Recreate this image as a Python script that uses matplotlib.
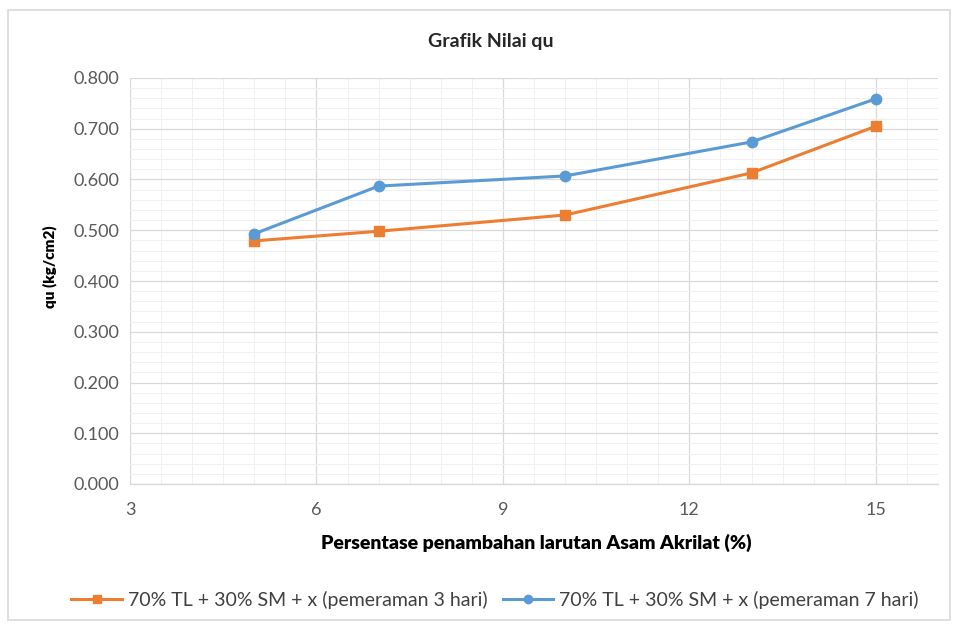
import matplotlib
matplotlib.use("Agg")
import matplotlib.pyplot as plt
from matplotlib.ticker import MultipleLocator, FormatStrFormatter
from matplotlib.patches import Rectangle

plt.rcParams['font.family'] = ['Lato', 'DejaVu Sans']

# Data
persen = [5, 7, 10, 13, 15]
qu_3_hari = [0.479, 0.498, 0.530, 0.613, 0.705]
qu_7_hari = [0.493, 0.587, 0.607, 0.674, 0.759]
label_3 = "70% TL + 30% SM + x (pemeraman 3 hari)"
label_7 = "70% TL + 30% SM + x (pemeraman 7 hari)"
judul = "Grafik Nilai qu"
label_x = "Persentase penambahan larutan Asam Akrilat (%)"
label_y = "qu (kg/cm2)"

W, H = 960, 628
fig = plt.figure(figsize=(W / 100, H / 100), dpi=100)
fig.patch.set_facecolor("white")

# outer chart frame
fig.patches.append(Rectangle((8 / W, 1 - 620 / H), 942 / W, 610 / H,
                             transform=fig.transFigure, fill=False,
                             edgecolor="#d9d9d9", linewidth=1.2))

left, right, top, bottom = 130, 938, 78, 484
ax = fig.add_axes([left / W, 1 - bottom / H, (right - left) / W, (bottom - top) / H])

orange = "#ED7D31"
blue = "#5B9BD5"
ax.plot(persen, qu_3_hari, color=orange, marker="s", markersize=7, linewidth=2.2,
        label=label_3, zorder=3)
ax.plot(persen, qu_7_hari, color=blue, marker="o", markersize=7.5, linewidth=2.2,
        label=label_7, zorder=4)

ax.set_xlim(3, 16)
ax.set_ylim(0, 0.8)
ax.xaxis.set_major_locator(MultipleLocator(3))
ax.xaxis.set_minor_locator(MultipleLocator(0.5))
ax.yaxis.set_major_locator(MultipleLocator(0.1))
ax.yaxis.set_minor_locator(MultipleLocator(0.02))
ax.yaxis.set_major_formatter(FormatStrFormatter("%.3f"))

ax.grid(which="major", color="#d9d9d9", linewidth=0.9)
ax.grid(which="minor", color="#f0f0f0", linewidth=0.7)
ax.set_axisbelow(True)

for s in ["top", "right", "left"]:
    ax.spines[s].set_visible(False)
ax.spines["bottom"].set_color("#d9d9d9")
ax.spines["bottom"].set_linewidth(1.0)

ax.tick_params(which="both", length=0)
ax.tick_params(axis="both", labelsize=13, labelcolor="#595959")
ax.tick_params(axis="x", pad=13)
ax.tick_params(axis="y", pad=8)

fig.text(491 / W, 1 - 41 / H, judul, ha="center", va="center",
         fontsize=14, fontweight="bold", color="#262626")
fig.text(536 / W, 1 - 543 / H, label_x, ha="center", va="center",
         fontsize=14, fontweight="heavy", color="#000000")
fig.text(50 / W, 1 - 267 / H, label_y, ha="center", va="center", rotation=90,
         fontsize=11, fontweight="heavy", color="#000000")

fig.legend(loc="center", bbox_to_anchor=(495 / W, 1 - 600 / H), ncol=2,
           frameon=False, fontsize=14, labelcolor="#404040",
           handlelength=2.6, columnspacing=0.8, handletextpad=0.3,
           markerscale=0.8)

fig.savefig("out.png", dpi=100, facecolor="white")
